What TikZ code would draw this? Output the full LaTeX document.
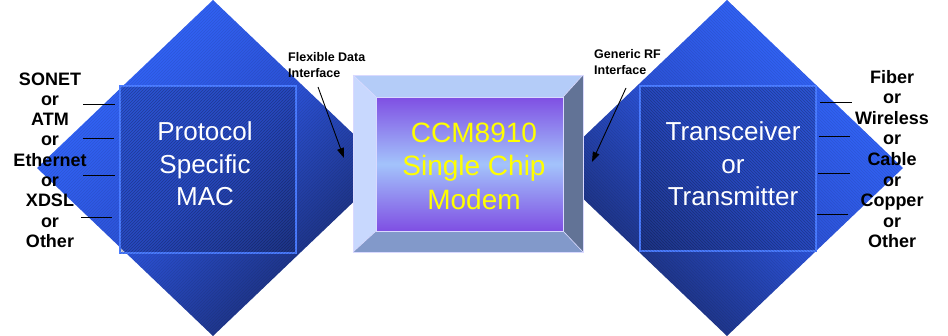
\documentclass[tikz,border=0pt]{standalone}
\usepackage{fontspec}
\setmainfont{Liberation Sans}
\usetikzlibrary{arrows.meta,patterns}
\definecolor{bbright}{HTML}{3468FF}
\definecolor{bmid}{HTML}{2C52D6}
\definecolor{bdark}{HTML}{1A2B6E}
\definecolor{innerb}{HTML}{4A7BFF}
\definecolor{facetop}{HTML}{B4CCF8}
\definecolor{faceleft}{HTML}{C8D8FE}
\definecolor{faceright}{HTML}{627396}
\definecolor{facebottom}{HTML}{8299CA}
\definecolor{chipP}{HTML}{7F4FE3}
\definecolor{chipB}{HTML}{A3C3FB}
\definecolor{chiptext}{HTML}{FFFF00}
\tikzset{
  diamondL/.style={top color=bbright, bottom color=bdark, middle color=bmid, shading angle=45},
  diamondR/.style={top color=bbright, bottom color=bdark, middle color=bmid, shading angle=-45},
  innersq/.style={draw=innerb, line width=1.2pt, fill=bdark, fill opacity=0.22},
  hatchL/.style={pattern=north east lines, pattern color=black, opacity=0.1},
  hatchR/.style={pattern=north west lines, pattern color=black, opacity=0.1},
  bigwhite/.style={text=white, align=center, font=\fontsize{26}{32.5}\selectfont},
  sidelab/.style={align=center, font=\bfseries\fontsize{18}{20.3}\selectfont},
  smalllab/.style={align=left, anchor=west, inner sep=0pt, font=\bfseries\fontsize{12.5}{16}\selectfont},
  tick/.style={draw=black, line width=0.9pt},
  ptr/.style={draw=black, line width=0.9pt, -{Triangle[length=10pt,width=7pt]}},
  facet/.style={draw=white!85!blue, line width=0.6pt},
}
\begin{document}
\begin{tikzpicture}[x=1pt,y=-1pt]
\useasboundingbox (0,0) rectangle (948,335);
% left diamond
\coordinate (LT) at (213,0);
\coordinate (LR) at (389,168);
\coordinate (LB) at (213,336);
\coordinate (LL) at (37,168);
\shade[diamondL] (LT) -- (LR) -- (LB) -- (LL) -- cycle;
\fill[hatchL] (LT) -- (LR) -- (LB) -- (LL) -- cycle;
% right diamond
\coordinate (RT) at (727,0);
\coordinate (RR) at (903,168);
\coordinate (RB) at (727,336);
\coordinate (RL) at (551,168);
\shade[diamondR] (RT) -- (RR) -- (RB) -- (RL) -- cycle;
\fill[hatchR] (RT) -- (RR) -- (RB) -- (RL) -- cycle;
% inner squares
\path[innersq] (120,86) rectangle (296,253);
\fill[pattern=north east lines, pattern color=black, opacity=0.18] (120,86) rectangle (296,253);
\path[innersq] (640,86) rectangle (816,251);
\fill[pattern=north west lines, pattern color=black, opacity=0.18] (640,86) rectangle (816,251);
% chip box
\fill[facetop] (353,75) -- (583,75) -- (563,97) -- (376,97) -- cycle;
\fill[faceleft] (353,75) -- (376,97) -- (376,231) -- (353,252) -- cycle;
\fill[faceright] (583,75) -- (583,252) -- (563,231) -- (563,97) -- cycle;
\fill[facebottom] (353,252) -- (376,231) -- (563,231) -- (583,252) -- cycle;
\shade[top color=chipP, bottom color=chipP, middle color=chipB] (376,97) rectangle (563,231);
\draw[facet] (353,75) rectangle (583,252);
\draw[facet] (376,97) rectangle (563,231);
\draw[facet] (353,75) -- (376,97) (583,75) -- (563,97) (353,252) -- (376,231) (583,252) -- (563,231);
% texts
\node[bigwhite] (mac) at (205,164) {Protocol\\Specific\\MAC};
\node[bigwhite] (trx) at (733,164) {Transceiver\\or\\Transmitter};
\node[text=chiptext, align=center, font=\fontsize{28}{33.5}\selectfont] (chip) at (474,166) {CCM8910\\Single Chip\\Modem};
\node[sidelab] (llab) at (50,160) {SONET\\or\\ATM\\or\\Ethernet\\or\\XDSL\\or\\Other};
\node[sidelab, font=\bfseries\fontsize{18}{20.6}\selectfont] (rlab) at (892,159) {Fiber\\or\\Wireless\\or\\Cable\\or\\Copper\\or\\Other};
\node[smalllab] (fdi) at (288,65) {Flexible Data\\Interface};
\node[smalllab] (grf) at (594,62) {Generic RF\\Interface};
% arrows
\coordinate (fa) at (318,87);
\coordinate (fb) at (344,158);
\draw[ptr] (fa) -- (fb);
\coordinate (ga) at (626,88);
\coordinate (gb) at (592,162);
\draw[ptr] (ga) -- (gb);
% ticks
\coordinate (l1a) at (83,104); \coordinate (l1b) at (115,104);
\coordinate (l2a) at (83,138); \coordinate (l2b) at (114,138);
\coordinate (l3a) at (83,175); \coordinate (l3b) at (115,175);
\coordinate (l4a) at (81,217); \coordinate (l4b) at (112,217);
\draw[tick] (l1a) -- (l1b);
\draw[tick] (l2a) -- (l2b);
\draw[tick] (l3a) -- (l3b);
\draw[tick] (l4a) -- (l4b);
\coordinate (r1a) at (820,102); \coordinate (r1b) at (852,102);
\coordinate (r2a) at (819,136); \coordinate (r2b) at (850,136);
\coordinate (r3a) at (818,173); \coordinate (r3b) at (850,173);
\coordinate (r4a) at (817,214); \coordinate (r4b) at (848,214);
\draw[tick] (r1a) -- (r1b);
\draw[tick] (r2a) -- (r2b);
\draw[tick] (r3a) -- (r3b);
\draw[tick] (r4a) -- (r4b);
\end{tikzpicture}
\end{document}
